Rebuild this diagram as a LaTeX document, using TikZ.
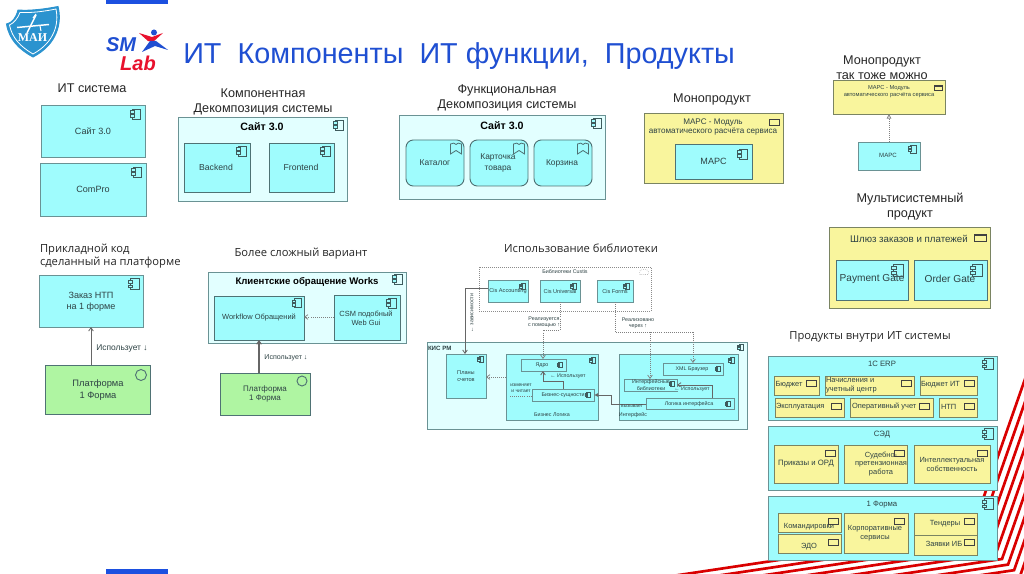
\documentclass[tikz,border=0pt]{standalone}
\usepackage{fontspec}
\setmainfont{Liberation Sans}
\newfontfamily\opensans{Open Sans}
\newfontfamily\serifb{Liberation Serif}
\usetikzlibrary{arrows.meta}
\definecolor{cyanfill}{HTML}{9FFCFD}
\definecolor{lightfill}{HTML}{E2FFFF}
\definecolor{yelfill}{HTML}{F9F59D}
\definecolor{greenfill}{HTML}{AFF5A2}
\definecolor{edgeteal}{HTML}{6A9294}
\definecolor{edgedark}{HTML}{4F7274}
\definecolor{edgeyel}{HTML}{7A8462}
\definecolor{titleblue}{HTML}{1F4FD2}
\definecolor{barblue}{HTML}{1C50E0}
\definecolor{maiblue}{HTML}{2B93CF}
\definecolor{slred}{HTML}{E8112D}
\definecolor{txt}{HTML}{2E4244}
\newcommand\fs[1]{\fontsize{#1}{#1}\selectfont\setlength\baselineskip{1.2\baselineskip}}
\newcommand\mybox[7]{\node[#2,minimum width={(#5-#3)*0.75pt},minimum height={(#6-#4)*0.75pt}] (#1) at ({(#3+#5)/2},{(#4+#6)/2}) {#7};}
\newcommand\mylbl[5][]{\node[lbl,#1] (#2) at (#3,#4) {#5};}
\tikzset{
  base/.style={rectangle,inner sep=0pt,outer sep=0pt,align=center,text=txt},
  cyanbox/.style={base,fill=cyanfill,draw=edgeteal,line width=0.7pt,font=\fs{6.8}},
  darkbox/.style={cyanbox,draw=edgedark},
  lightbox/.style={base,fill=lightfill,draw=edgeteal,line width=0.7pt},
  yelbox/.style={base,fill=yelfill,draw=edgeyel,line width=0.7pt,font=\fs{6.2}},
  greenbox/.style={base,fill=greenfill,draw=edgedark,line width=0.7pt,font=\fs{7}},
  funcbox/.style={cyanbox,rounded corners=5.5pt,draw=edgedark},
  tinybox/.style={cyanbox,line width=0.55pt,font=\fs{4.2}},
  lbl/.style={inner sep=0pt,outer sep=0pt,align=center,text=txt,font=\fs{4}},
  head/.style={lbl,text=black!85,font=\fs{9.5}},
  headb/.style={lbl,text=black!85,font=\opensans\fs{8.4}},
  boxtitle/.style={lbl,text=black,font=\bfseries\fs{8}},
  compic/.pic={
    \draw[draw=edgedark!80!black,line width=0.5pt] (-3.5,-5) rectangle (4.5,5);
    \draw[draw=edgedark!80!black,line width=0.5pt,fill=cyanfill] (-5.5,-3.2) rectangle (-1.5,-0.8);
    \draw[draw=edgedark!80!black,line width=0.5pt,fill=cyanfill] (-5.5,0.8) rectangle (-1.5,3.2);
  },
  prodic/.pic={
    \draw[draw=black!75,line width=0.5pt] (-5,-3) rectangle (5,3);
    \draw[draw=black!75,line width=0.9pt] (-5,-2.2) -- (5,-2.2);
  },
  bookic/.pic={
    \draw[draw=edgedark,line width=0.6pt] (-5.5,-5) .. controls (-3,-6.5) and (-1,-6) .. (0,-4.5) .. controls (1,-6) and (3,-6.5) .. (5.5,-5) -- (5.5,5) -- (0,1.5) -- (-5.5,5) -- cycle;
  },
  link/.style={draw=black!60,line width=0.6pt},
  dlink/.style={draw=black!50,line width=0.55pt,densely dotted},
  arrowopen/.style={-{Straight Barb[length=2.5pt,width=3.5pt]}},
  arrowfill/.style={-{Latex[length=3pt,width=3pt]}},
  stripe/.style={draw=red!85!black,line width=2pt,line join=miter}
}
\begin{document}
\begin{tikzpicture}[x=0.75pt,y=-0.75pt]
\useasboundingbox (0,0) rectangle (1024,574);
\fill[white] (0,0) rectangle (1024,574);
% red stripes
\begin{scope}
\clip (0,0) rectangle (1024,574);
\foreach \j in {-5,...,3} {
  \pgfmathsetmacro\cx{1002+6.04*\j}
  \pgfmathsetmacro\cy{559+5.59*\j}
  \draw[stripe] ({\cx-400},{\cy+60}) -- (\cx,\cy) -- ({\cx+0.35*300},{\cy-300});
}
\end{scope}
% blue bars
\fill[barblue] (105.5,0) rectangle (168,4);
\fill[barblue] (105.5,569) rectangle (168,574);
% MAI logo
\path[fill=maiblue,draw=maiblue,line width=0.7pt] (6.5,24) .. controls (12,23) and (16,18) .. (18,10) .. controls (30,11) and (45,9) .. (58,6.5) .. controls (62,22) and (58,44) .. (33,57) .. controls (20,50) and (9,40) .. (6.5,24) -- cycle;
\draw[white,line width=0.6pt] (9.5,25) .. controls (14,23) and (18,18) .. (20,12.5) .. controls (31,13) and (44,11.5) .. (56,9) .. controls (59,23) and (55,42) .. (33,54) .. controls (21,47) and (12,38) .. (9.5,25) -- cycle;
\draw[white,line width=1.1pt] (17,27.5) -- (49,24.5);
\draw[white,line width=1.1pt] (27,33) -- (36,15);
\draw[white,line width=0.8pt] (33,18) -- (36,14) (40,26) -- (41,31);
\node[inner sep=0pt,text=white,font=\serifb\bfseries\fs{9}] (maitext) at (32.5,37.5) {МАИ};
% SM Lab logo
\node[inner sep=0pt,text=titleblue,font=\bfseries\itshape\fs{15}] (smtext) at (121,45) {SM};
\node[inner sep=0pt,text=slred,font=\bfseries\itshape\fs{15}] (labtext) at (138,63) {Lab};
\fill[titleblue] (154,32.5) circle (3);
\fill[slred] (139,33) -- (152,37) -- (163,33) -- (153,42) -- (148,41) -- cycle;
\fill[titleblue] (150,41) -- (156,41) -- (168,50) -- (155,46) -- (142,52) -- cycle;
% title
\node[inner sep=0pt,anchor=west,text=titleblue,font=\fs{21.6}] (title) at (183,56) {ИТ\ \ Компоненты\ \ ИТ функции,\ \ Продукты};
% heads
\mylbl[head]{h1}{92}{88}{ИТ система}
\mylbl[head]{h2}{263}{102}{Компонентная\\Декомпозиция системы}
\mylbl[head]{h3}{507}{98}{Функциональная\\Декомпозиция системы}
\mylbl[head]{h4}{712}{99}{Монопродукт}
\mylbl[head]{h5}{882}{68}{Монопродукт\\так тоже можно}
\mylbl[head]{h6}{910}{207}{Мультисистемный\\продукт}
\mylbl[headb,anchor=west,align=left]{h7}{40}{256}{Прикладной код\\сделанный на платформе}
\mylbl[headb]{h8}{301}{254}{Более сложный вариант}
\mylbl[headb]{h9}{581}{248}{Использование библиотеки}
\mylbl[headb]{h10}{870}{337}{Продукты внутри ИТ системы}
% IT system
\mybox{site}{cyanbox}{41}{105}{145}{157}{Сайт 3.0}
\mybox{compro}{cyanbox}{40}{163}{146}{216}{ComPro}
\pic[scale=1] at (136,114) {compic};
\pic[scale=1] at (137,172) {compic};
% component decomposition
\mybox{cdec}{lightbox}{178}{117}{347}{201}{}
\mylbl[boxtitle]{cdect}{262}{127}{Сайт 3.0}
\mybox{backend}{darkbox}{184}{143}{250}{192}{}
\mybox{frontend}{darkbox}{269}{143}{334}{192}{}
\mylbl[font=\fs{6.5}]{bet}{216}{167}{Backend}
\mylbl[font=\fs{6.5}]{fet}{301}{167}{Frontend}
\pic at (339,125) {compic};
\pic at (242,151) {compic};
\pic at (326,151) {compic};
% functional decomposition
\mybox{fdec}{lightbox}{399}{115}{605}{199}{}
\mylbl[boxtitle]{fdect}{502}{126}{Сайт 3.0}
\mybox{cat}{funcbox}{406}{140}{464}{186}{}
\mybox{card}{funcbox}{470}{140}{528}{186}{}
\mybox{cart}{funcbox}{534}{140}{592}{186}{}
\mylbl[font=\fs{6.3}]{catt}{435}{163}{Каталог}
\mylbl[font=\fs{6.3}]{cardt}{498}{163}{Карточка\\товара}
\mylbl[font=\fs{6.3}]{cartt}{562}{163}{Корзина}
\pic at (597,123) {compic};
\pic at (456,149) {bookic};
\pic at (519,149) {bookic};
\pic at (583,149) {bookic};
% monoproduct
\mybox{mono}{yelbox}{644}{113}{783}{183}{}
\mylbl[font=\fs{6.1}]{monot}{713}{127}{МАРС - Модуль\\автоматического расчёта сервиса}
\mybox{marc}{darkbox}{675}{144}{752}{179}{МАРС}
\pic at (774,122) {prodic};
\pic at (743,154) {compic};
% monoproduct 2
\mybox{mono2}{yelbox}{833}{80}{945}{114}{}
\mylbl[font=\fs{4.3}]{mono2t}{889}{92}{МАРС - Модуль\\автоматического расчёта сервиса}
\mybox{marc2}{cyanbox}{858}{142}{920}{170}{}
\mylbl[font=\fs{4.6}]{marc2t}{888}{155}{МАРС}
\pic[scale=0.8] at (938,88) {prodic};
\pic[scale=0.8] at (913,149) {compic};
\draw[dlink,-{Triangle[open,length=3.5pt,width=3.5pt]}] (marc2.north -| mono2.south) -- (mono2.south);
% multi
\mybox{multi}{yelbox}{829}{227}{990}{308}{}
\mylbl[font=\fs{7.3}]{multit}{909}{239}{Шлюз заказов и платежей}
\mybox{pay}{darkbox}{836}{260}{908}{300}{}
\mybox{order}{darkbox}{914}{260}{987}{300}{}
\mylbl[font=\fs{7.6}]{payt}{872}{279}{Payment Gate}
\mylbl[font=\fs{7.6}]{ordert}{950}{279}{Order Gate}
\pic[scale=1.2] at (980,238) {prodic};
\pic[scale=1.2] at (898,270) {compic};
\pic[scale=1.2] at (977,270) {compic};
% applied code
\mybox{zak}{cyanbox}{39}{275}{143}{327}{}
\mylbl[font=\fs{6.8}]{zakt}{91}{302}{Заказ НТП\\на 1 форме}
\mybox{plat}{greenbox}{45}{365}{150}{414}{}
\mylbl[font=\fs{7}]{platt}{98}{390}{Платформа\\1 Форма}
\pic[scale=1.1] at (134,284) {compic};
\draw[edgedark,line width=0.7pt] (141,375) circle (5.5);
\coordinate (ax1) at (91,0);
\draw[link,arrowopen] (plat.north -| ax1) -- (zak.south -| ax1);
\mylbl[font=\fs{6.3}]{uses1}{122}{348}{Использует ↓}
% complex variant
\mybox{klient}{lightbox}{208}{272}{406}{343}{}
\mylbl[boxtitle,font=\bfseries\fs{7.2}]{klientt}{307}{282}{Клиентские обращение Works}
\mybox{wf}{darkbox}{214}{296}{304}{340}{}
\mybox{csm}{darkbox}{334}{295}{400}{340}{}
\mylbl[font=\fs{5.6}]{wft}{259}{318}{Workflow Обращений}
\mylbl[font=\fs{5.6}]{csmt}{366}{318}{CSM подобный\\Web Gui}
\mybox{plat2}{greenbox}{220}{373}{310}{415}{}
\mylbl[font=\fs{6}]{plat2t}{265}{394}{Платформа\\1 Форма}
\pic at (398,279) {compic};
\pic[scale=0.9] at (297,303) {compic};
\pic at (392,303) {compic};
\draw[edgedark,line width=0.7pt] (302,381) circle (5);
\coordinate (cw) at (0,317);
\draw[dlink,arrowopen] (csm.west |- cw) -- (wf.east |- cw);
\coordinate (ax2) at (259,0);
\draw[link,line width=0.8pt,arrowopen] (plat2.north -| ax2) -- (wf.south -| ax2);
\mylbl[font=\fs{5.3}]{uses2}{286}{358}{Использует ↓}
% library
\mybox{libs}{base,draw=black!45,line width=0.5pt,densely dotted}{479}{267}{651}{311}{}
\mylbl{libst}{565}{272}{Библиотеки Custis}
\draw[draw=black!40,line width=0.4pt,densely dotted] (640,274.5) .. controls (638,270) and (642,269) .. (644,269.5) .. controls (647,269) and (650,271) .. (648,274.5) -- cycle;
\mybox{cisa}{tinybox}{488}{280}{528}{302}{}
\mybox{cisu}{tinybox}{540}{280}{580}{302}{}
\mybox{cisf}{tinybox}{597}{280}{633}{302}{}
\mylbl[font=\fs{4.2}]{cisat}{508}{291}{Cis Accounting}
\mylbl[font=\fs{4.2}]{cisut}{560}{291}{Cis Universal}
\mylbl[font=\fs{4.2}]{cisft}{615}{291}{Cis Forms}
\pic[scale=.6] at (523,286) {compic};
\pic[scale=.6] at (574,286) {compic};
\pic[scale=.6] at (627,286) {compic};
% KIS RM
\mybox{kis}{lightbox}{427}{342}{747}{429}{}
\mylbl[font=\bfseries\fs{4.6},anchor=west]{kist}{428}{348}{КИС РМ}
\mybox{plans}{tinybox}{446}{354}{486}{398}{}
\mylbl[font=\fs{4.2}]{planst}{466}{376}{Планы\\счетов}
\mybox{bl}{tinybox}{506}{354}{598}{420}{}
\mylbl{blt}{552}{415}{Бизнес Логика}
\mybox{iface}{tinybox}{619}{354}{738}{420}{}
\mylbl{ifacet}{633}{415}{Интерфейс}
\mybox{core}{tinybox}{521}{359}{566}{371}{}
\mylbl{coret}{542}{365}{Ядро}
\mybox{ents}{tinybox}{532}{389}{594}{401}{}
\mylbl{entst}{563}{395}{Бизнес-сущности}
\mybox{xml}{tinybox}{663}{363}{723}{375}{}
\mylbl{xmlt}{692}{369}{XML Браузер}
\mybox{ilib}{tinybox}{624}{379}{677}{391}{}
\mylbl{ilibt}{651}{385}{Интерфейсные\\библиотеки}
\mybox{ilog}{tinybox}{646}{398}{734}{409}{}
\mylbl{ilogt}{689}{404}{Логика интерфейса}
\pic[scale=.6] at (741,347) {compic};
\pic[scale=.6] at (481,359) {compic};
\pic[scale=.6] at (593,360) {compic};
\pic[scale=.6] at (732,360) {compic};
\pic[scale=.55] at (560,365) {compic};
\pic[scale=.55] at (588,395) {compic};
\pic[scale=.55] at (718,369) {compic};
\pic[scale=.55] at (672,384) {compic};
\pic[scale=.55] at (728,404) {compic};
% library connectors
\coordinate (k1) at (465,288);
\draw[link,arrowopen] (cisa.west |- k1) -- (k1) -- (plans.north -| k1);
\mylbl[rotate=90]{k1t}{472}{313}{← зависимости}
\coordinate (k2a) at (560,330);
\coordinate (k2b) at (543,330);
\draw[dlink,arrowopen] (cisu.south -| k2a) -- (k2a) -- (k2b) -- (core.north -| k2b);
\mylbl{k2t}{544}{322}{Реализуется\\с помощью ↑}
\coordinate (k3a) at (615,332);
\coordinate (k3b) at (693,332);
\coordinate (k3c) at (650,332);
\draw[dlink,arrowopen] (cisf.south -| k3a) -- (k3a) -- (k3b) -- (xml.north -| k3b);
\draw[dlink,arrowopen] (k3c) -- (ilib.north -| k3c);
\mylbl{k3t}{638}{323}{Реализовано\\через ↑}
\coordinate (k4) at (0,377);
\draw[dlink,arrowopen] (bl.west |- k4) -- (plans.east |- k4);
\mylbl[font=\fs{3.7}]{k5t}{521}{388}{изменяет\\и читает}
\coordinate (k5) at (510,396);
\draw[dlink] (k5) -- (ents.west |- k5);
\coordinate (k6a) at (563,381);
\coordinate (k6b) at (543,381);
\draw[link,arrowopen] (ents.north -| k6a) -- (k6a) -- (k6b) -- (core.south -| k6b);
\mylbl{k6t}{568}{376}{← Использует}
\coordinate (k7a) at (611,404);
\coordinate (k7b) at (611,395);
\draw[link,line width=0.7pt,arrowfill] (ilog.west |- k7a) -- (k7a) -- (k7b) -- (ents.east |- k7b);
\mylbl[fill=cyanfill,font=\fs{3.6}]{k7t}{632}{406}{вызывает}
\coordinate (k8a) at (712,385);
\draw[link,arrowopen] (ilog.north -| k8a) -- (k8a) -- (ilib.east |- k8a);
\mylbl[fill=cyanfill]{k8t}{692}{389}{← Использует}
% products inside
\mybox{erp}{cyanbox}{768}{356}{997}{420}{}
\mybox{sed}{cyanbox}{768}{426}{997}{490}{}
\mybox{form}{cyanbox}{768}{496}{997}{560}{}
\mylbl[font=\fs{5.8}]{erpt}{882}{364}{1С ERP}
\mylbl[font=\fs{5.8}]{sedt}{882}{435}{СЭД}
\mylbl[font=\fs{5.8}]{formt}{882}{505}{1 Форма}
\pic[scale=1.1] at (988,364) {compic};
\pic[scale=1.1] at (988,434) {compic};
\pic[scale=1.1] at (988,504) {compic};
\mybox{p1}{yelbox}{774}{376}{819}{395}{}
\mybox{p2}{yelbox}{825}{376}{914}{395}{}
\mybox{p3}{yelbox}{920}{376}{977}{395}{}
\mybox{p4}{yelbox}{775}{398}{844}{417}{}
\mybox{p5}{yelbox}{850}{398}{933}{417}{}
\mybox{p6}{yelbox}{939}{398}{977}{417}{}
\mybox{p7}{yelbox}{774}{445}{838}{483}{}
\mybox{p8}{yelbox}{844}{445}{907}{483}{}
\mybox{p9}{yelbox}{914}{445}{990}{483}{}
\mybox{p10}{yelbox}{778}{513}{841}{532}{}
\mybox{p11}{yelbox}{778}{534}{841}{553}{}
\mybox{p12}{yelbox}{844}{513}{908}{553}{}
\mybox{p13}{yelbox}{914}{513}{977}{535}{}
\mybox{p14}{yelbox}{914}{535}{977}{555}{}
\mylbl[font=\fs{5.6},anchor=west]{p1t}{775.5}{385}{Бюджет}
\mylbl[font=\fs{5.6},anchor=west,align=left]{p2t}{826}{385}{Начисления и\\учетный центр}
\mylbl[font=\fs{5.6},anchor=west]{p3t}{921}{385}{Бюджет ИТ}
\mylbl[font=\fs{5.6},anchor=west]{p4t}{776}{407}{Эксплуатация}
\mylbl[font=\fs{5.6},anchor=west]{p5t}{852}{407}{Оперативный учет}
\mylbl[font=\fs{5.6},anchor=west]{p6t}{941}{407}{НТП}
\mylbl[font=\fs{5.8}]{p7t}{806}{464}{Приказы и ОРД}
\mylbl[font=\fs{5.6}]{p8t}{881}{464}{Судебно-\\претензионная\\работа}
\mylbl[font=\fs{5.6}]{p9t}{952}{464}{Интеллектуальная\\собственность}
\mylbl[font=\fs{5.6}]{p10t}{809}{527}{Командировки}
\mylbl[font=\fs{5.6}]{p11t}{809}{547}{ЭДО}
\mylbl[font=\fs{5.6}]{p12t}{875}{533}{Корпоративные\\сервисы}
\mylbl[font=\fs{5.6}]{p13t}{945}{524}{Тендеры}
\mylbl[font=\fs{5.6}]{p14t}{944}{544}{Заявки ИБ}
\pic at (811,383) {prodic};
\pic at (906,383) {prodic};
\pic at (969,383) {prodic};
\pic at (836,406) {prodic};
\pic at (924,406) {prodic};
\pic at (969,406) {prodic};
\pic at (830,453) {prodic};
\pic at (899,453) {prodic};
\pic at (982,453) {prodic};
\pic at (833,521) {prodic};
\pic at (833,542) {prodic};
\pic at (899,521) {prodic};
\pic at (969,521) {prodic};
\pic at (969,542) {prodic};
\end{tikzpicture}
\end{document}
